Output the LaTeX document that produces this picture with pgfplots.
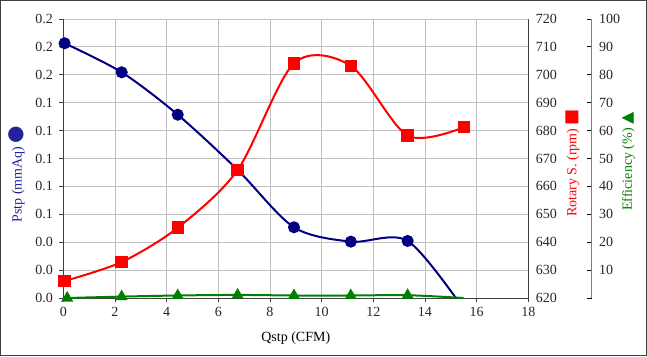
\documentclass[border=0pt]{standalone}
\usepackage{fontspec}
\setmainfont{Liberation Serif}
\newfontfamily\sym{DejaVu Sans}
\usepackage{pgfplots}
\pgfplotsset{compat=1.18}
\definecolor{navy}{HTML}{000080}
\definecolor{labnavy}{HTML}{22229A}
\definecolor{pred}{HTML}{FF0000}
\definecolor{pgreen}{HTML}{008000}
\definecolor{gridc}{HTML}{C0C0C0}
\definecolor{axc}{HTML}{404040}
\pgfplotsset{myax/.style={scale only axis, height=279pt, at={(63.3pt,58pt)}, anchor=south west,
  font=\fontsize{14}{16}\selectfont, /pgf/number format/assume math mode=true,
  ticklabel style={text=black!85}, axis line style={axc, line width=0.9pt},
  tick style={axc, line width=0.8pt}, major tick length=4pt}}
\begin{document}
\begin{tikzpicture}[x=1pt,y=1pt]
\path[use as bounding box] (0,0) rectangle (647,356);
\draw[axc, line width=1.2pt] (0.6,0.6) rectangle (646.4,355.4);
\begin{axis}[myax, width=465pt, xmin=0, xmax=18, ymin=0, ymax=0.2,
  axis x line*=bottom, axis y line*=left, tick align=outside,
  xtick={0,2,...,18}, ytick={0,0.02,0.04,0.06,0.08,0.1,0.12,0.14,0.16,0.18,0.2},
  scaled y ticks=false,
  yticklabel style={/pgf/number format/fixed, /pgf/number format/fixed zerofill, /pgf/number format/precision=1, xshift=-3pt},
  xticklabel style={yshift=-2pt},
  grid=major, grid style={gridc, line width=0.8pt},
  xlabel={Qstp (CFM)},
  every axis x label/.style={at={(axis description cs:0.5,-0.1434)}, anchor=center},
  ylabel={\color{labnavy}Pstp (mmAq)\ {\sym\fontsize{20}{20}\selectfont ●}},
  every axis y label/.style={at={(axis description cs:-0.1,0.444)}, rotate=90, anchor=center}]
\addplot[navy, line width=2pt, smooth, mark=*, mark size=5pt, mark indices={1,2,3,4,5,6,7}]
  coordinates {(0.05,0.1826) (2.26,0.1618) (4.43,0.1314) (6.75,0.0918) (8.93,0.0507) (11.13,0.0404) (13.33,0.0409) (15.5,-0.008)};
\end{axis}
\begin{axis}[myax, width=465pt, xmin=0, xmax=18, ymin=620, ymax=720,
  hide x axis, axis y line*=right, major tick length=0pt,
  ytick={620,630,...,720}, yticklabel style={xshift=4pt},
  ylabel={\color{pred}Rotary S. (rpm)\ {\sym\fontsize{17}{17}\selectfont ■}},
  every axis y label/.style={at={(axis description cs:1.0946,0.484)}, rotate=90, anchor=center}]
\addplot[pred, line width=2pt, smooth, mark=square*, mark size=5.2pt]
  coordinates {(0.05,626.1) (2.26,632.9) (4.43,645.2) (6.75,665.9) (8.93,704.1) (11.13,703.2) (13.33,678.2) (15.5,681.2)};
\end{axis}
\begin{axis}[myax, width=528.4pt, xmin=0, xmax=20.457, ymin=0, ymax=100, clip=false,
  hide x axis, axis y line*=right, tick align=inside, major tick length=4.5pt,
  axis line style={gray, line width=0.9pt}, tick style={black, line width=0.9pt},
  ytick={0,10,...,100}, yticklabels={,10,20,30,40,50,60,70,80,90,100},
  yticklabel style={xshift=4pt},
  ylabel={\color{pgreen}Efficiency (\%)\ {\sym\fontsize{16}{16}\selectfont ▲}},
  every axis y label/.style={at={(axis description cs:1.069,0.489)}, rotate=90, anchor=center}]
\addplot[pgreen, line width=2pt, smooth, mark=triangle*, mark size=5pt, mark indices={1,2,3,4,5,6,7}]
  coordinates {(0.15,0) (2.26,0.5) (4.43,0.9) (6.75,1.1) (8.93,0.9) (11.13,0.9) (13.33,1.0) (15.5,0)};
\end{axis}
\end{tikzpicture}
\end{document}
